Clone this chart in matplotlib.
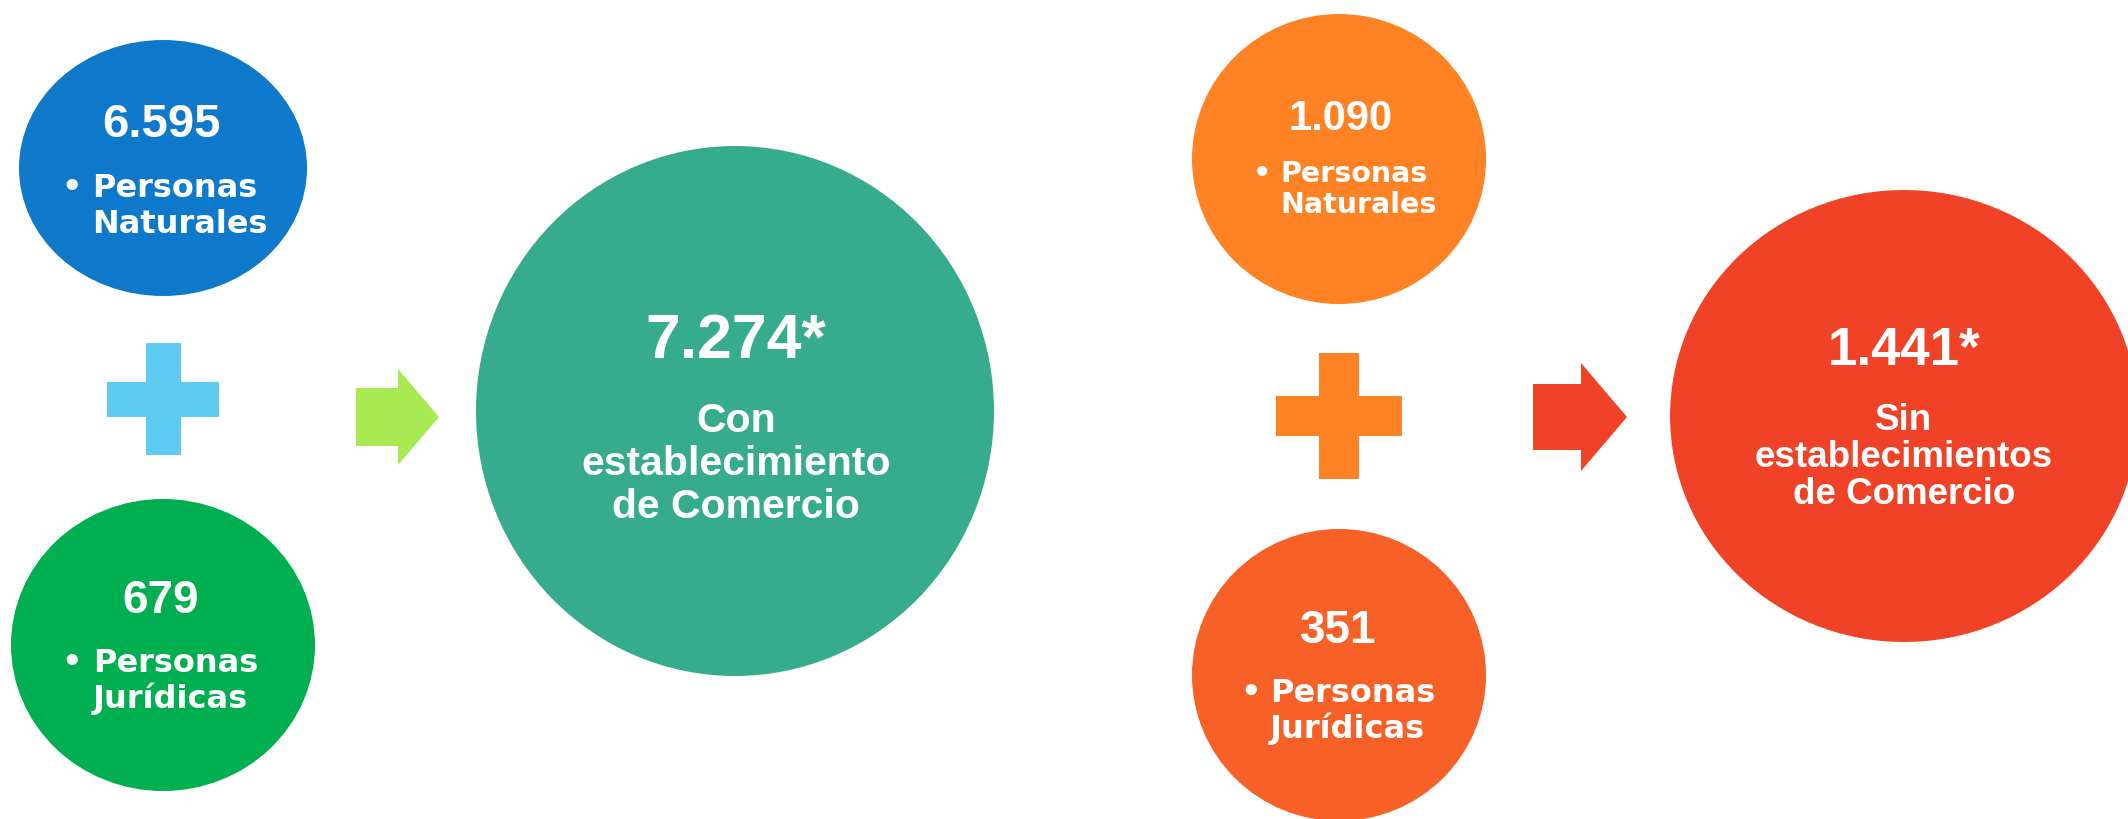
import matplotlib
matplotlib.use("Agg")
import matplotlib.pyplot as plt
from matplotlib.patches import Ellipse, Polygon

# ---- data ----
parts_values = ["6.595", "679", "1.090", "351"]
parts_labels = [["Personas", "Naturales"], ["Personas", "Jurídicas"],
                ["Personas", "Naturales"], ["Personas", "Jurídicas"]]
total_values = ["7.274*", "1.441*"]
total_labels = [["Con", "establecimiento", "de Comercio"],
                ["Sin", "establecimientos", "de Comercio"]]

# ---- styles / layout (pixel space) ----
part_colors = ["#0E79CB", "#00AF50", "#FF8225", "#F76128"]
part_geom = [  # cx, cy, a, b
    (163, 168, 144, 128),
    (163, 645, 152, 146),
    (1339, 159, 147, 145),
    (1339, 675, 147, 146),
]
# number: (x_center, baseline, size); bullet x; text left x; baselines; size
part_text = [
    (161, 137, 34, 72, 92, (197, 233), 23),
    (161, 613, 33, 72, 93, (672, 708), 23),
    (1340, 130, 30, 1262, 1280, (182, 213), 20.5),
    (1338, 643, 33, 1251, 1270, (702, 738), 23),
]
total_colors = ["#36AC8C", "#F04226"]
total_geom = [(735, 411, 259, 265), (1904, 416, 234, 226)]
total_text = [
    (736, 358, 45, (432, 475, 518), 29.5),
    (1904, 365, 38, (430, 467, 504), 26.5),
]
plus_specs = [(163, 399, 56, 17.5, "#5FCBF3"), (1339, 416, 63, 20, "#FF8225")]
arrow_specs = [  # body x0, body x1, body y0, body y1, tip x, head y0, head y1, tip y
    (356, 398, 388, 446, 439, 369, 465, 417, "#A9EA52"),
    (1533, 1581, 384, 450, 1627, 363, 471, 417, "#F04228"),
]

fig = plt.figure(figsize=(21.28, 8.19), dpi=100)
ax = fig.add_axes([0, 0, 1, 1])
ax.set_xlim(0, 2128)
ax.set_ylim(819, 0)
ax.axis("off")

num_font = ["Liberation Sans", "DejaVu Sans"]
lbl_font = ["DejaVu Sans"]

for (cx, cy, a, b), col in zip(part_geom, part_colors):
    ax.add_patch(Ellipse((cx, cy), 2 * a, 2 * b, facecolor=col, edgecolor="none"))

for val, lbls, (nx, nb, ns, bx, tx, bls, ts) in zip(parts_values, parts_labels, part_text):
    ax.text(nx, nb, val, ha="center", va="baseline", color="white",
            fontsize=ns, fontweight="bold", family=num_font)
    ax.text(bx, bls[0], "•", ha="center", va="baseline", color="white",
            fontsize=ts, fontweight="bold", family=lbl_font)
    for lbl, bl in zip(lbls, bls):
        ax.text(tx, bl, lbl, ha="left", va="baseline", color="white",
                fontsize=ts, fontweight="bold", family=lbl_font)

for (cx, cy, a, b), col in zip(total_geom, total_colors):
    ax.add_patch(Ellipse((cx, cy), 2 * a, 2 * b, facecolor=col, edgecolor="none"))

for val, lbls, (nx, nb, ns, bls, ts) in zip(total_values, total_labels, total_text):
    ax.text(nx, nb, val, ha="center", va="baseline", color="white",
            fontsize=ns, fontweight="bold", family=num_font)
    for lbl, bl in zip(lbls, bls):
        ax.text(nx, bl, lbl, ha="center", va="baseline", color="white",
                fontsize=ts, fontweight="bold", family=num_font)

for cx, cy, h, t, col in plus_specs:
    pts = [(cx - t, cy - h), (cx + t, cy - h), (cx + t, cy - t), (cx + h, cy - t),
           (cx + h, cy + t), (cx + t, cy + t), (cx + t, cy + h), (cx - t, cy + h),
           (cx - t, cy + t), (cx - h, cy + t), (cx - h, cy - t), (cx - t, cy - t)]
    ax.add_patch(Polygon(pts, closed=True, facecolor=col, edgecolor="none"))

for x0, x1, y0, y1, xt, hy0, hy1, yt, col in arrow_specs:
    pts = [(x0, y0), (x1, y0), (x1, hy0), (xt, yt), (x1, hy1), (x1, y1), (x0, y1)]
    ax.add_patch(Polygon(pts, closed=True, facecolor=col, edgecolor="none"))

fig.savefig("out.png", dpi=100, facecolor="white")
